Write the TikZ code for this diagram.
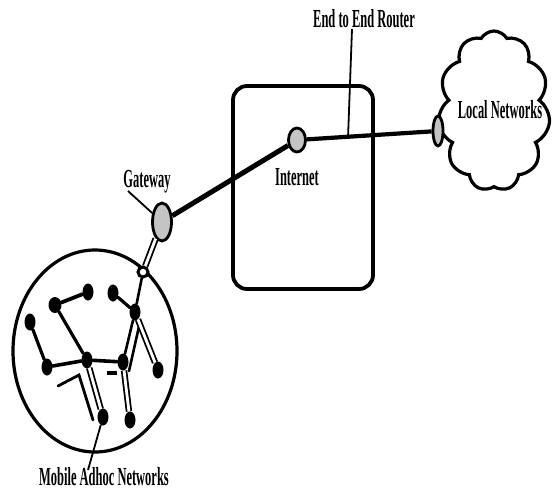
\documentclass[tikz,border=0pt]{standalone}
\usepackage{fontspec}
\setmainfont{Liberation Serif}
\usetikzlibrary{shapes.geometric,shapes.symbols}
\definecolor{portgray}{HTML}{C4C4C4}
\newcommand\narrowtext[1]{\scalebox{0.48}[1]{#1}}
\begin{document}
\begin{tikzpicture}[x=1pt,y=-1pt,
  lbl/.style={inner sep=0pt, font=\fontsize{26}{28}\selectfont\bfseries},
  port/.style={ellipse, draw, line width=2.8pt, fill=portgray, inner sep=0pt},
  dot/.style={ellipse, fill=black, inner sep=0pt, minimum width=11pt, minimum height=17pt},
  link/.style={line width=3.2pt, line cap=round},
  twin/.style={draw, double=white, line width=1.8pt, double distance=2.8pt},
  lead/.style={line width=1.8pt}
]
\useasboundingbox (0,0) rectangle (553,493);

% Internet cloud box
\node[draw, line width=3.8pt, rounded corners=14pt, minimum width=140pt,
      minimum height=203pt, inner sep=0pt] (box) at (303,187.5) {};

% Local network cloud
\node[cloud, draw, line width=3.2pt, cloud puffs=11, cloud puff arc=120,
      minimum width=112pt, minimum height=160pt, inner sep=0pt] (cloud) at (494,111) {};

% Mobile ad hoc network boundary
\node[ellipse, draw, line width=3.2pt, minimum width=164pt, minimum height=202pt,
      inner sep=0pt] (manet) at (95,351) {};

% Gateways and routers
\node[port, minimum width=19pt, minimum height=38pt] (gw) at (162,222) {};
\node[port, minimum width=17pt, minimum height=24pt] (inet) at (297,140) {};
\node[port, minimum width=10pt, minimum height=30pt] (loc) at (438,131) {};
\node[circle, draw, line width=3pt, fill=white, minimum size=10pt, inner sep=0pt] (entry) at (143,272) {};

% Backbone links
\draw[line width=5pt] (gw) -- (inet);
\draw[line width=4.2pt] (inet) -- coordinate[pos=0.33] (rtr) (loc);
\draw[twin] (gw) -- (entry);

% Labels and leaders
\node[lbl] (rtrlbl) at (364,19) {\narrowtext{End to End Router}};
\coordinate (rtrtop) at (352,29);
\draw[lead] (rtrtop) -- (rtr);

\node[lbl] at (500,110) {\narrowtext{Local Networks}};
\node[lbl] at (297,177) {\narrowtext{Internet}};

\node[lbl] (gwlbl) at (147,182) {\narrowtext{Gateway}};
\coordinate (gwfoot) at (128,191);
\draw[lead] (gwfoot) -- (gw);

% Mobile nodes
\node[dot, minimum width=13pt, minimum height=16pt] (A) at (55,305) {};
\node[dot] (B) at (88,292) {};
\node[dot] (G) at (113,293) {};
\node[dot] (H) at (135,312) {};
\node[dot] (D) at (30,322) {};
\node[dot] (E) at (47,367) {};
\node[dot] (C) at (87,360) {};
\node[dot] (F) at (123,362) {};
\node[dot] (I) at (158,370) {};
\node[dot] (J) at (103,417) {};
\node[dot] (K) at (130,420) {};

% Ad hoc links
\draw[link, line width=3.8pt] (A) -- (B);
\draw[link] (A) -- (C);
\draw[link] (D) -- (E);
\draw[link, line width=3.6pt] (E) -- (C) -- (F);
\draw[link] (G) -- (H);
\draw[link, line width=2.6pt] (entry) -- (H) -- (F);
\coordinate (h2a) at (140,322);
\coordinate (h2b) at (129,371);
\draw[link, line width=2.6pt] (h2a) -- (h2b);
\draw[twin] (H) -- (I);
\draw[twin] (C) -- (J);
\draw[twin] (F) -- (K);

% Stray link fragments
\coordinate (s1) at (58,386);
\coordinate (s2) at (79,375);
\coordinate (s3) at (93,420);
\draw[link, line width=2.8pt] (s1) -- (s2) -- (s3);
\coordinate (b1) at (107,373);
\coordinate (b2) at (117,373);
\draw[line width=4.5pt] (b1) -- (b2);

% Ad hoc label
\node[lbl] (manetlbl) at (104,477) {\narrowtext{Mobile Adhoc Networks}};
\coordinate (manetfoot) at (88,470);
\draw[lead] (J) -- (manetfoot);
\end{tikzpicture}
\end{document}
